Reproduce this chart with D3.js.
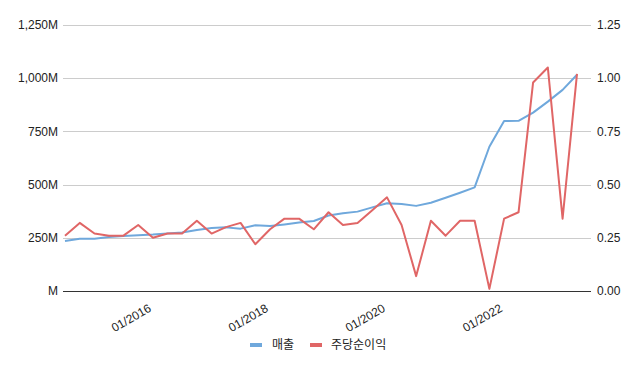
<!DOCTYPE html>
<meta charset="utf-8">
<body style="margin:0;background:#fff">
<style>
    text { font-family: "Liberation Sans", Arial, sans-serif; font-size: 12px; fill: #222; }
    .kr { font-family: "Noto Sans CJK KR", "Liberation Sans", sans-serif; }
    .grid line { stroke: #ccc; stroke-width: 1px; }
    .line { fill: none; stroke-width: 2px; stroke-linejoin: round; }
</style>
<script src="https://d3js.org/d3.v7.min.js"></script>
<script>
    // quarterly data, first point 07/2014
    var startDate = new Date(2014, 6, 1);
    var revenue = [235, 246, 246, 254, 258, 262, 265, 270, 275, 287, 296, 299,
                   293, 309, 305, 313, 322, 329, 355, 365, 373, 393, 412, 409,
                   400, 415, 438, 462, 487, 678, 799, 800, 838, 890, 945, 1016];
    var eps = [0.26, 0.32, 0.27, 0.26, 0.26, 0.31, 0.25, 0.27, 0.27, 0.33, 0.27, 0.30,
               0.32, 0.22, 0.29, 0.34, 0.34, 0.29, 0.37, 0.31, 0.32, 0.38, 0.44, 0.31,
               0.07, 0.33, 0.26, 0.33, 0.33, 0.01, 0.34, 0.37, 0.98, 1.05, 0.34, 1.02];
    var leftTicks = [0, 250, 500, 750, 1000, 1250];
    var leftLabels = ["M", "250M", "500M", "750M", "1,000M", "1,250M"];
    var rightTicks = [0, 0.25, 0.5, 0.75, 1, 1.25];
    var rightLabels = ["0.00", "0.25", "0.50", "0.75", "1.00", "1.25"];
    var xTicks = [new Date(2016, 0, 1), new Date(2018, 0, 1), new Date(2020, 0, 1), new Date(2022, 0, 1)];
    var seriesNames = ["매출", "주당순이익"];
    var colors = ["#6fa8dc", "#e06666"];

    var dates = revenue.map(function(d, i) { return d3.timeMonth.offset(startDate, i * 3); });

    var width = 640, height = 371;
    var plot = {left: 63, right: 591, top: 25, bottom: 291};

    var svg = d3.select("body").append("svg")
        .attr("width", width)
        .attr("height", height);

    var x = d3.scaleTime().domain(d3.extent(dates)).range([65, 577]);
    var yL = d3.scaleLinear().domain([0, 1250]).range([plot.bottom, plot.top]);
    var yR = d3.scaleLinear().domain([0, 1.25]).range([plot.bottom, plot.top]);

    // gridlines
    svg.append("g").attr("class", "grid")
        .selectAll("line").data(leftTicks.slice(1)).enter().append("line")
        .attr("x1", plot.left).attr("x2", plot.right)
        .attr("y1", function(d) { return Math.round(yL(d)) + 0.5; })
        .attr("y2", function(d) { return Math.round(yL(d)) + 0.5; });

    // left axis labels
    svg.append("g").selectAll("text").data(leftTicks).enter().append("text")
        .attr("x", 58)
        .attr("y", function(d) { return yL(d); })
        .attr("dy", "0.35em")
        .attr("text-anchor", "end")
        .text(function(d, i) { return leftLabels[i]; });

    // right axis labels
    svg.append("g").selectAll("text").data(rightTicks).enter().append("text")
        .attr("x", 597)
        .attr("y", function(d) { return yR(d); })
        .attr("dy", "0.35em")
        .text(function(d, i) { return rightLabels[i]; });

    // x labels, slanted
    svg.append("g").selectAll("text").data(xTicks).enter().append("text")
        .attr("text-anchor", "end")
        .attr("transform", function(d) { return "translate(" + (x(d) - 3) + ",307) rotate(-30)"; })
        .attr("dy", "0.35em")
        .text(d3.timeFormat("%m/%Y"));

    var lineL = d3.line()
        .x(function(d, i) { return x(dates[i]); })
        .y(function(d) { return yL(d); });
    var lineR = d3.line()
        .x(function(d, i) { return x(dates[i]); })
        .y(function(d) { return yR(d); });

    svg.append("path").datum(revenue).attr("class", "line")
        .attr("stroke", colors[0]).attr("d", lineL);
    svg.append("path").datum(eps).attr("class", "line")
        .attr("stroke", colors[1]).attr("d", lineR);

    // zero baseline
    svg.append("line")
        .attr("x1", plot.left).attr("x2", plot.right)
        .attr("y1", Math.round(yL(0)) + 0.5).attr("y2", Math.round(yL(0)) + 0.5)
        .attr("stroke", "#333");

    // legend
    var legendX = [250, 310];
    var legend = svg.append("g").selectAll("g").data(seriesNames).enter().append("g")
        .attr("transform", function(d, i) { return "translate(" + legendX[i] + ",345)"; });
    legend.append("rect")
        .attr("x", 0).attr("y", -2).attr("width", 12).attr("height", 4)
        .attr("fill", function(d, i) { return colors[i]; });
    legend.append("text")
        .attr("class", "kr")
        .attr("x", function(d, i) { return i == 0 ? 22 : 21; })
        .attr("dy", "0.35em")
        .text(function(d) { return d; });
</script>
